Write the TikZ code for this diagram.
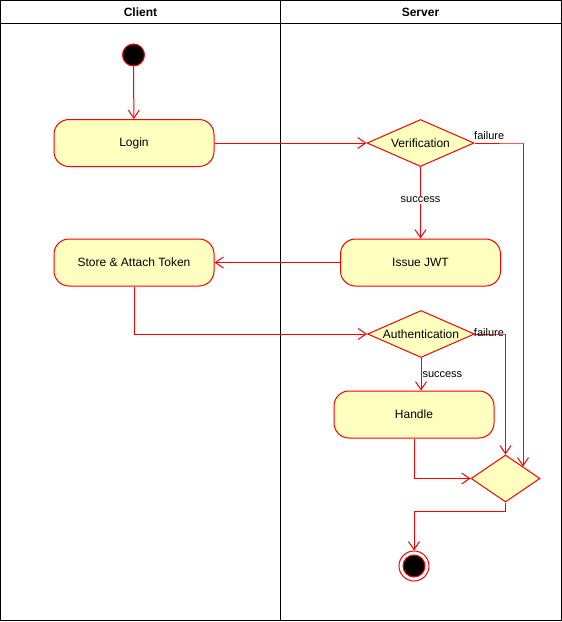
\documentclass[tikz,border=0pt]{standalone}
\usepackage{fontspec}
\setmainfont{Liberation Sans}
\usetikzlibrary{shapes.geometric,arrows.meta}
\definecolor{actfill}{HTML}{FFFFC0}
\definecolor{actline}{HTML}{FF0000}
\begin{document}
\begin{tikzpicture}[x=1pt,y=-1pt,line width=1pt,
  act/.style={draw=actline,fill=actfill,rounded corners=15pt,minimum width=160pt,minimum height=47pt,inner sep=0pt,font=\fontsize{12}{14}\selectfont},
  dec/.style={draw=actline,fill=actfill,diamond,minimum width=107pt,minimum height=47pt,inner sep=0pt},
  flow/.style={draw=actline,-{Straight Barb[length=8pt,width=11pt,line width=1pt]}},
  lbl/.style={font=\fontsize{11}{13}\selectfont,text=black,inner sep=1pt},
  hdr/.style={font=\bfseries\fontsize{12}{14}\selectfont,inner sep=0pt}]
\useasboundingbox (0,0) rectangle (562,622);
% swimlanes
\draw[black] (0.5,0.5) rectangle (561,620.5);
\draw[black] (0.5,23) -- (561,23);
\draw[black] (280.5,0.5) -- (280.5,620.5);
\node[hdr] (hclient) at (140.5,12) {Client};
\node[hdr] (hserver) at (420.5,12) {Server};
% nodes
\node[circle,fill=black,draw=actline,minimum size=22pt,inner sep=0pt] (start) at (133.5,55) {};
\node[act] (login) at (134,143) {Login};
\node[dec,label={center:\fontsize{12}{14}\selectfont Verification}] (ver) at (420.5,143) {};
\node[act] (jwt) at (420.5,262.5) {Issue JWT};
\node[act] (store) at (134,262.5) {Store \& Attach Token};
\node[dec,label={center:\fontsize{12}{14}\selectfont Authentication}] (auth) at (421,334) {};
\node[act] (handle) at (414,414.5) {Handle};
\node[dec,minimum width=69pt] (fin) at (505.5,478.5) {};
\node[circle,draw=actline,fill=white,minimum size=30pt,inner sep=0pt] (end) at (414,566) {};
\node[circle,fill=black,draw=actline,minimum size=22pt,inner sep=0pt] (endin) at (end.center) {};
% flows
\draw[flow] (start) -- (login);
\draw[flow] (login) -- (ver);
\draw[flow] (ver.east) -- node[lbl,pos=0.3,above=2pt] {failure} ++(49,0) -| (fin.north east);
\draw[flow] (ver.south) -- node[lbl,fill=white,pos=0.46] {success} (jwt.north);
\draw[flow] (jwt) -- (store);
\draw[flow] (store.south) |- (auth.west);
\draw[flow] (auth.east) -- node[lbl,pos=0.45,above=-4pt] {failure} ++(31,0) -| (fin.north);
\draw[flow] (auth.south) -- node[lbl,pos=0.5,right] {success} (auth.south |- handle.north);
\draw[flow] (handle.south) |- (fin.west);
\draw[flow] (fin.south) -- ++(0,9) -| (end.north);
\end{tikzpicture}
\end{document}
